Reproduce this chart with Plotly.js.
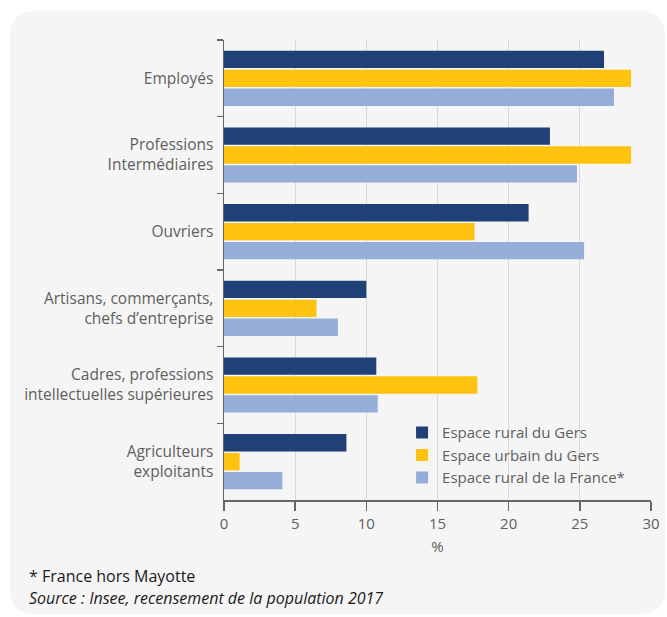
<!DOCTYPE html>
<html>
<head>
<meta charset="utf-8">
<script src="https://cdn.plot.ly/plotly-3.0.1.min.js"></script>
<style>
  html, body { margin:0; padding:0; background:#ffffff; }
  #bg { position:absolute; left:10px; top:11px; width:655px; height:603px; background:#f5f5f5; border-radius:22px; }
  #chart { position:absolute; left:0; top:0; width:667px; height:617px; }
</style>
</head>
<body>
<div id="bg"></div>
<div id="chart"></div>
<script>
const categories = [
  "Employés",
  "Professions<br>Intermédiaires",
  "Ouvriers",
  "Artisans, commerçants,<br>chefs d’entreprise",
  "Cadres, professions<br>intellectuelles supérieures",
  "Agriculteurs<br>exploitants"
];
const seriesNames = ["Espace rural du Gers", "Espace urbain du Gers", "Espace rural de la France*"];
const ruralGers   = [26.7, 22.9, 21.4, 10.0, 10.7, 8.6];
const urbainGers  = [28.6, 28.6, 17.6, 6.5, 17.8, 1.1];
const ruralFrance = [27.4, 24.8, 25.3, 8.0, 10.8, 4.1];
const colors = ["#1f4176", "#fdc30f", "#95aed9"];
const xTicks = [0, 5, 10, 15, 20, 25, 30];

const allSeries = [ruralGers, urbainGers, ruralFrance];
const traces = allSeries.map((vals, i) => ({
  type: "bar",
  orientation: "h",
  name: seriesNames[i],
  x: vals,
  y: categories,
  marker: { color: colors[i] },
  hoverinfo: "x+name"
}));

const textColor = "#5f5f5f";
const layout = {
  width: 667, height: 617,
  margin: { l: 224, r: 16, t: 40, b: 117 },
  paper_bgcolor: "rgba(0,0,0,0)",
  plot_bgcolor: "rgba(0,0,0,0)",
  font: { family: "Open Sans, sans-serif", size: 15, color: textColor },
  barmode: "group",
  bargap: 0.26,
  bargroupgap: 0.08,
  showlegend: true,
  legend: {
    x: 0.417, y: 0.182, xanchor: "left", yanchor: "top",
    bgcolor: "rgba(0,0,0,0)", borderwidth: 0,
    traceorder: "normal",
    font: { size: 15, color: textColor },
    itemwidth: 30, tracegroupgap: 0
  },
  xaxis: {
    range: [0, 30],
    tickvals: xTicks,
    ticktext: xTicks.map(String),
    showgrid: true, gridcolor: "#d9d9d9", gridwidth: 1,
    zeroline: false,
    showline: true, linecolor: "#666666", linewidth: 1.5,
    ticks: "outside", ticklen: 9, tickcolor: "#666666", tickwidth: 1.5,
    tickfont: { size: 15, color: textColor },
    title: { text: "%", font: { size: 15, color: textColor }, standoff: 10 },
    fixedrange: true
  },
  yaxis: {
    type: "category",
    autorange: "reversed",
    showgrid: false, zeroline: false,
    showline: true, linecolor: "#666666", linewidth: 1.5,
    ticks: "outside", tickson: "boundaries", ticklen: 6, tickcolor: "#666666", tickwidth: 1.5,
    ticklabelstandoff: 6,
    tickfont: { size: 15.5, color: textColor },
    fixedrange: true
  },
  annotations: [
    { xref: "paper", yref: "paper", x: -0.462, y: -0.165, xanchor: "left", yanchor: "middle",
      text: "* France hors Mayotte", showarrow: false, font: { size: 16, color: "#1a1a1a" } },
    { xref: "paper", yref: "paper", x: -0.462, y: -0.213, xanchor: "left", yanchor: "middle",
      text: "<i>Source : Insee, recensement de la population 2017</i>", showarrow: false,
      font: { size: 16, color: "#1a1a1a" } }
  ]
};

Plotly.newPlot("chart", traces, layout, { displayModeBar: false, staticPlot: true });
</script>
</body>
</html>
